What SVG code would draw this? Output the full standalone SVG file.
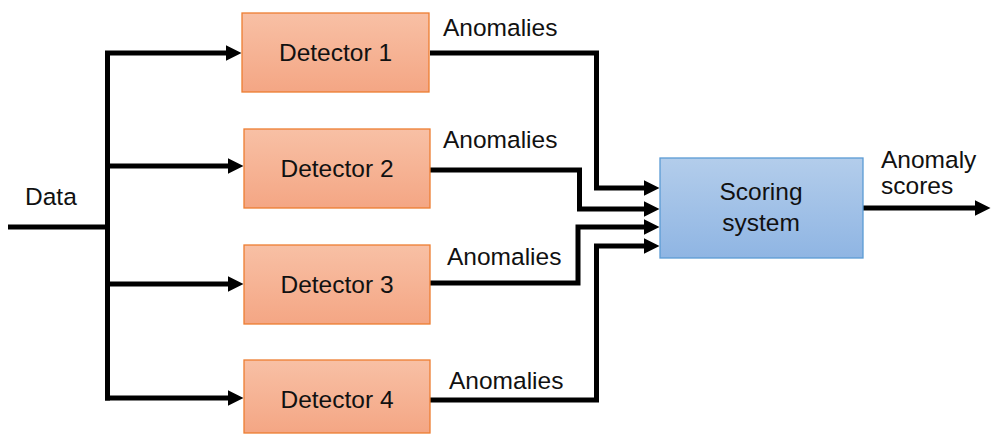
<svg xmlns="http://www.w3.org/2000/svg" width="991" height="435" viewBox="0 0 991 435">
  <defs>
    <linearGradient id="gOrange" x1="0" y1="0" x2="0" y2="1">
      <stop offset="0" stop-color="#F8C0A5"/>
      <stop offset="1" stop-color="#F4A684"/>
    </linearGradient>
    <linearGradient id="gBlue" x1="0" y1="0" x2="0" y2="1">
      <stop offset="0" stop-color="#B3CDEB"/>
      <stop offset="1" stop-color="#8FB5E3"/>
    </linearGradient>
    <marker id="arr" viewBox="0 0 16 16" refX="0.5" refY="8" markerWidth="16" markerHeight="16" markerUnits="userSpaceOnUse" orient="auto">
      <path d="M0,0 L16,8 L0,16 Z" fill="#000"/>
    </marker>
    <style>
      .det { fill: url(#gOrange); stroke: #ED7D31; stroke-width: 1.3; }
      .sc { fill: url(#gBlue); stroke: #5B9BD5; stroke-width: 1.3; }
      .lbl { font-family: "Liberation Sans", Arial, sans-serif; font-size: 24.5px; fill: #111; }
      .mid { text-anchor: middle; }
      .ln { fill: none; stroke: #000; stroke-width: 5; stroke-linejoin: miter; stroke-linecap: butt; }
    </style>
  </defs>
  <rect width="991" height="435" fill="#fff"/>

  <g id="connectors">
    <path class="ln" d="M8,227 H107.5"/>
    <path class="ln" d="M107.5,51 V400.5"/>
    <path class="ln" marker-end="url(#arr)" d="M105,53 H226"/>
    <path class="ln" marker-end="url(#arr)" d="M105,166 H228"/>
    <path class="ln" marker-end="url(#arr)" d="M105,284 H228"/>
    <path class="ln" marker-end="url(#arr)" d="M105,398 H228"/>

    <path class="ln" marker-end="url(#arr)" d="M430,53 H596.5 V188 H644"/>
    <path class="ln" marker-end="url(#arr)" d="M430,170 H579.5 V209 H644"/>
    <path class="ln" marker-end="url(#arr)" d="M430,283 H578 V227 H644"/>
    <path class="ln" marker-end="url(#arr)" d="M430,400 H596.5 V246 H644"/>

    <path class="ln" marker-end="url(#arr)" d="M863,208 H975"/>

    <text class="lbl" x="443" y="36">Anomalies</text>
    <text class="lbl" x="443" y="148">Anomalies</text>
    <text class="lbl" x="447" y="265">Anomalies</text>
    <text class="lbl" x="449" y="389">Anomalies</text>
    <text class="lbl" x="25" y="205">Data</text>
    <text class="lbl" x="881" y="168">Anomaly</text>
    <text class="lbl" x="881" y="194">scores</text>
  </g>

  <g id="detector1">
    <rect class="det" x="242" y="13" width="187" height="79"/>
    <text class="lbl mid" x="335.5" y="61">Detector 1</text>
  </g>
  <g id="detector2">
    <rect class="det" x="244" y="129" width="186" height="79"/>
    <text class="lbl mid" x="337" y="177">Detector 2</text>
  </g>
  <g id="detector3">
    <rect class="det" x="244" y="245" width="186" height="79"/>
    <text class="lbl mid" x="337" y="293">Detector 3</text>
  </g>
  <g id="detector4">
    <rect class="det" x="244" y="360" width="186" height="73"/>
    <text class="lbl mid" x="337" y="408">Detector 4</text>
  </g>
  <g id="scoring">
    <rect class="sc" x="660" y="158" width="203" height="100"/>
    <text class="lbl mid" x="761" y="200">Scoring</text>
    <text class="lbl mid" x="761" y="231">system</text>
  </g>
</svg>
